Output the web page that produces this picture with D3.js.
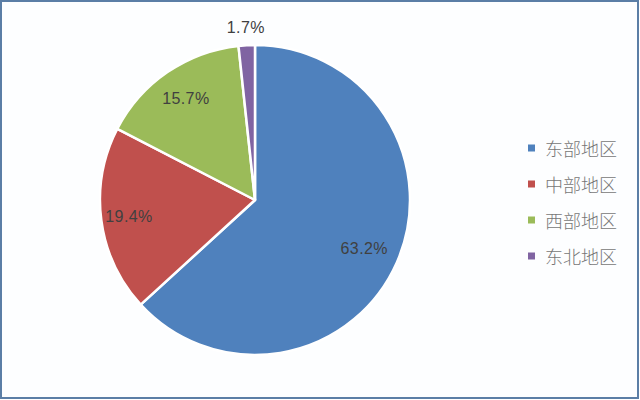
<!DOCTYPE html>
<html><head><meta charset="utf-8">
<script src="https://cdn.jsdelivr.net/npm/d3@7"></script>
<style>body{margin:0;background:#fff}svg{display:block}</style>
</head><body>
<svg id="c" width="640" height="400"></svg>
<script>
const categories = ["东部地区","中部地区","西部地区","东北地区"];
const values = [63.2, 19.4, 15.7, 1.7];
const labels = ["63.2%","19.4%","15.7%","1.7%"];
const colors = ["#4f81bd","#c0504d","#9bbb59","#8064a2"];

const svg = d3.select("#c");
svg.append("rect").attr("x",1).attr("y",1).attr("width",637).attr("height",397)
  .attr("fill","#fdfeff").attr("stroke","#5b7ea6").attr("stroke-width",2);

const cx=255, cy=200, r=155;
const g = svg.append("g").attr("transform",`translate(${cx},${cy})`);
const pie = d3.pie().sort(null).value(d=>d);
const arcs = pie(values);
const arc = d3.arc().innerRadius(0).outerRadius(r);
g.selectAll("path").data(arcs).join("path")
  .attr("d",arc).attr("fill",(d,i)=>colors[i])
  .attr("stroke","#fff").attr("stroke-width",2.5).attr("stroke-linejoin","round");

const labelR = [0.77*r, 0.82*r, 0.79*r, r+18];
g.selectAll("text.lbl").data(arcs).join("text").attr("class","lbl")
  .attr("transform",(d,i)=>{
    const a=(d.startAngle+d.endAngle)/2;
    return `translate(${Math.sin(a)*labelR[i]},${-Math.cos(a)*labelR[i]})`;
  })
  .attr("text-anchor","middle").attr("dominant-baseline","central")
  .attr("font-family","Liberation Sans, Arial, sans-serif").attr("font-size",16)
  .attr("letter-spacing",0.4)
  .attr("fill","#404040").text((d,i)=>labels[i]);

const lg = svg.append("g");
const rowY = d3.scalePoint().domain(categories).range([148,256]);
categories.forEach((c,i)=>{
  const y=rowY(c);
  lg.append("rect").attr("x",528).attr("y",y-3.5).attr("width",7).attr("height",7).attr("fill",colors[i]);
  lg.append("text").attr("x",545).attr("y",y).attr("dominant-baseline","central")
    .attr("font-family","Noto Sans CJK SC, sans-serif").attr("font-size",18)
    .attr("font-weight",300)
    .attr("fill","#777").text(c);
});
</script>
</body></html>
